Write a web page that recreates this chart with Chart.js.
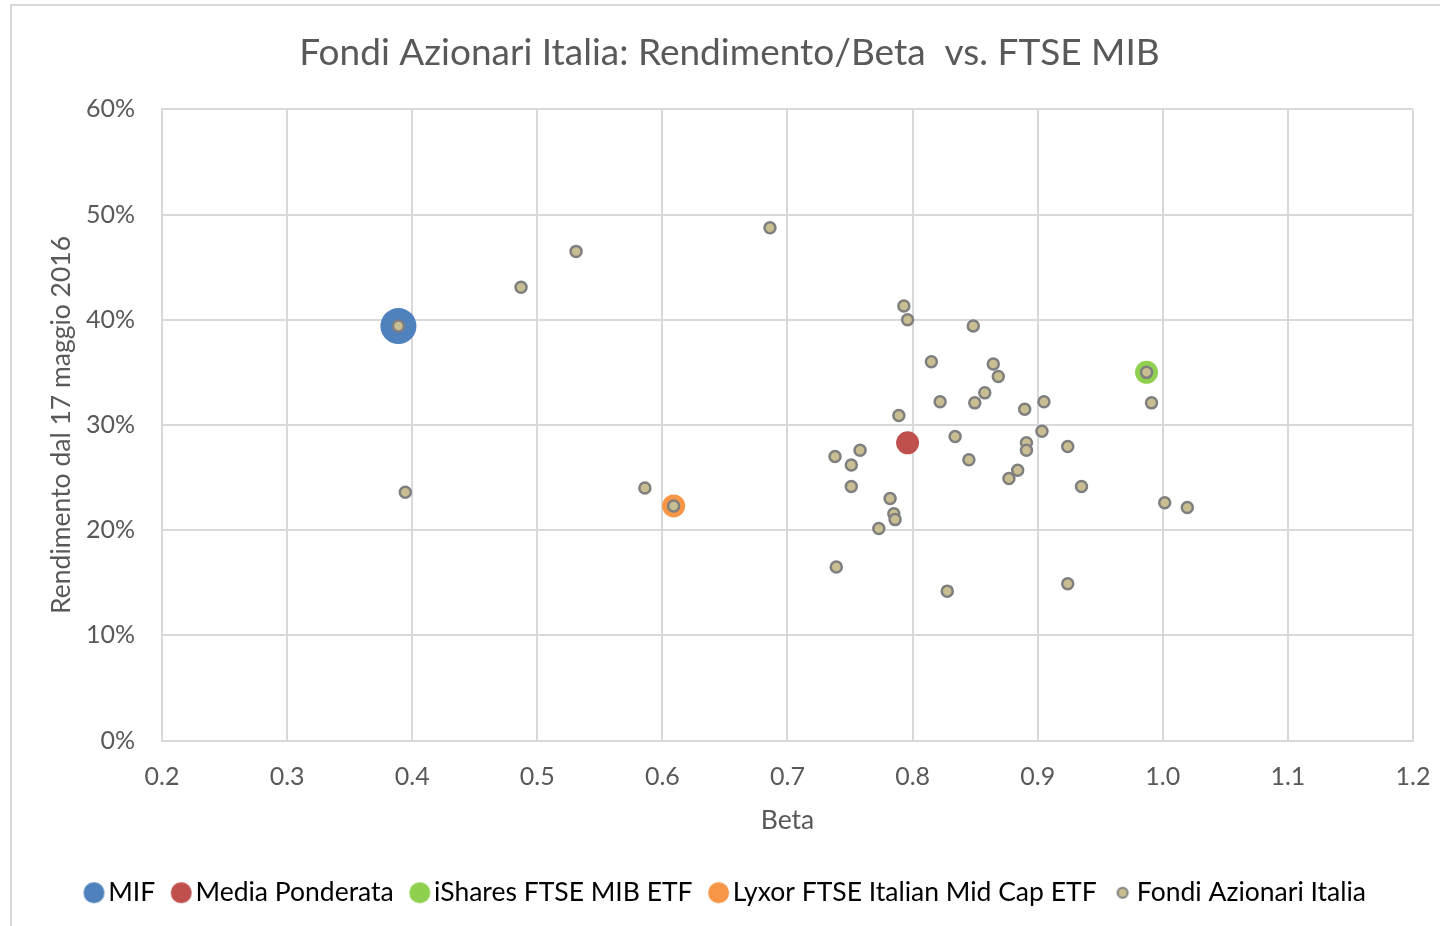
<!DOCTYPE html>
<html>
<head>
<meta charset="utf-8">
<script src="https://cdn.jsdelivr.net/npm/chart.js@4.4.1/dist/chart.umd.min.js"></script>
<style>
  html, body { margin: 0; padding: 0; background: #fff; overflow: hidden; }
  #frame {
    position: absolute; left: 10px; top: 4px; width: 1500px; height: 1000px;
    border-top: 2px solid #d9d9d9; border-left: 2px solid #d9d9d9;
  }
  #wrap { position: absolute; left: 0; top: 0; width: 1440px; height: 926px; }
</style>
</head>
<body>
<div id="frame"></div>
<div id="wrap"><canvas id="chart" width="1440" height="926"></canvas></div>
<script>
// Beta / rendimento values
const mifBeta = [0.389];
const mifRend = [0.394];

const mediaBeta = [0.796];
const mediaRend = [0.283];

const isharesBeta = [0.987];
const isharesRend = [0.350];

const lyxorBeta = [0.609];
const lyxorRend = [0.223];

const fondiBeta = [
  0.389, 0.3945, 0.487, 0.531, 0.586, 0.609, 0.686, 0.738, 0.739, 0.751,
  0.751, 0.758, 0.782, 0.785, 0.786, 0.773, 0.789, 0.793, 0.796, 0.815,
  0.822, 0.834, 0.845, 0.8485, 0.8497, 0.8577, 0.8645, 0.8685, 0.877, 0.884,
  0.8896, 0.891, 0.891, 0.9034, 0.905, 0.924, 0.935, 0.8277, 0.924, 0.987,
  0.991, 1.0015, 1.0196,
];
const fondiRend = [
  0.394, 0.236, 0.431, 0.465, 0.240, 0.223, 0.4875, 0.270, 0.165, 0.262,
  0.2415, 0.276, 0.230, 0.2155, 0.210, 0.2016, 0.309, 0.413, 0.400, 0.360,
  0.322, 0.289, 0.267, 0.394, 0.321, 0.3305, 0.358, 0.346, 0.249, 0.257,
  0.315, 0.283, 0.276, 0.294, 0.322, 0.2795, 0.2415, 0.142, 0.149, 0.350,
  0.321, 0.226, 0.2216,
];

const xTicks = [0.2, 0.3, 0.4, 0.5, 0.6, 0.7, 0.8, 0.9, 1.0, 1.1, 1.2];

const toPoints = (xs, ys) => xs.map((x, i) => ({ x: x, y: ys[i] }));

const FONT = "Lato, 'Open Sans', sans-serif";
const TEXT = "#595959";
const GRID = "#d9d9d9";

// small canvases used as legend markers (different sizes per series)
function legendDot(fill, r, stroke, lw) {
  const size = Math.ceil((r + (lw || 0)) * 2) + 2;
  const c = document.createElement("canvas");
  c.width = size;
  c.height = size;
  const g = c.getContext("2d");
  g.beginPath();
  g.arc(size / 2, size / 2, r, 0, Math.PI * 2);
  g.fillStyle = fill;
  g.fill();
  if (stroke) {
    g.lineWidth = lw;
    g.strokeStyle = stroke;
    g.stroke();
  }
  return c;
}

const datasets = [
  {
    label: "MIF",
    data: toPoints(mifBeta, mifRend),
    backgroundColor: "#4f81bd",
    borderColor: "#4f81bd",
    pointRadius: 18,
    borderWidth: 0,
    order: 1,
    legendMark: legendDot("#4f81bd", 10.5),
  },
  {
    label: "Media Ponderata",
    data: toPoints(mediaBeta, mediaRend),
    backgroundColor: "#c0504d",
    borderColor: "#c0504d",
    pointRadius: 11.5,
    borderWidth: 0,
    order: 1,
    legendMark: legendDot("#c0504d", 10.5),
  },
  {
    label: "iShares FTSE MIB ETF",
    data: toPoints(isharesBeta, isharesRend),
    backgroundColor: "#8fd14f",
    borderColor: "#8fd14f",
    pointRadius: 11.5,
    borderWidth: 0,
    order: 1,
    legendMark: legendDot("#8fd14f", 10.5),
  },
  {
    label: "Lyxor FTSE Italian Mid Cap ETF",
    data: toPoints(lyxorBeta, lyxorRend),
    backgroundColor: "#f79646",
    borderColor: "#f79646",
    pointRadius: 11.5,
    borderWidth: 0,
    order: 1,
    legendMark: legendDot("#f79646", 10.5),
  },
  {
    label: "Fondi Azionari Italia",
    data: toPoints(fondiBeta, fondiRend),
    backgroundColor: "#c9be92",
    borderColor: "#7f7f7f",
    pointRadius: 5.5,
    borderWidth: 2.5,
    order: 0,
    legendMark: legendDot("#c9be92", 5, "#7f7f7f", 2),
  },
];

// force the plot area to the same box as the reference
const yAxisWidth = 116;
const xAxisHeight = 114;

new Chart(document.getElementById("chart"), {
  type: "scatter",
  data: { datasets: datasets },
  options: {
    responsive: false,
    animation: false,
    layout: { padding: { left: 46, right: 27, top: 0, bottom: 10 } },
    elements: { point: { hoverRadius: 0 } },
    plugins: {
      tooltip: { enabled: false },
      title: {
        display: true,
        text: "Fondi Azionari Italia: Rendimento/Beta  vs. FTSE MIB",
        color: TEXT,
        font: { family: FONT, size: 37, weight: "normal" },
        padding: { top: 31, bottom: 34 },
      },
      legend: {
        position: "bottom",
        labels: {
          color: TEXT,
          font: { family: FONT, size: 26.5 },
          usePointStyle: true,
          pointStyleWidth: 2,
          padding: 25,
          generateLabels: (chart) =>
            chart.data.datasets.map((ds, i) => ({
              text: ds.label,
              pointStyle: ds.legendMark,
              fillStyle: ds.backgroundColor,
              strokeStyle: ds.borderColor,
              lineWidth: 0,
              hidden: false,
              datasetIndex: i,
            })),
        },
      },
    },
    scales: {
      x: {
        type: "linear",
        min: 0.2,
        max: 1.2,
        afterFit: (scale) => {
          scale.height = xAxisHeight;
          scale.paddingLeft = 0;
          scale.paddingRight = 0;
        },
        afterBuildTicks: (scale) => {
          scale.ticks = xTicks.map((v) => ({ value: v }));
        },
        ticks: {
          color: TEXT,
          font: { family: FONT, size: 25 },
          padding: 21,
          callback: (v) => Number(v).toFixed(1),
        },
        grid: { color: GRID, lineWidth: 2, drawTicks: false },
        border: { color: GRID, width: 2 },
        title: {
          display: true,
          text: "Beta",
          color: TEXT,
          font: { family: FONT, size: 26.5 },
          padding: { top: 10, bottom: 18 },
        },
      },
      y: {
        type: "linear",
        min: 0,
        max: 0.6,
        afterFit: (scale) => { scale.width = yAxisWidth; },
        ticks: {
          stepSize: 0.1,
          color: TEXT,
          font: { family: FONT, size: 25 },
          padding: 27,
          callback: (v) => Math.round(v * 100) + "%",
        },
        grid: { color: GRID, lineWidth: 2, drawTicks: false },
        border: { color: GRID, width: 2 },
        title: {
          display: true,
          text: "Rendimento dal 17 maggio 2016",
          color: TEXT,
          font: { family: FONT, size: 26.5 },
          padding: { top: 0, bottom: 0 },
        },
      },
    },
  },
});
</script>
</body>
</html>
